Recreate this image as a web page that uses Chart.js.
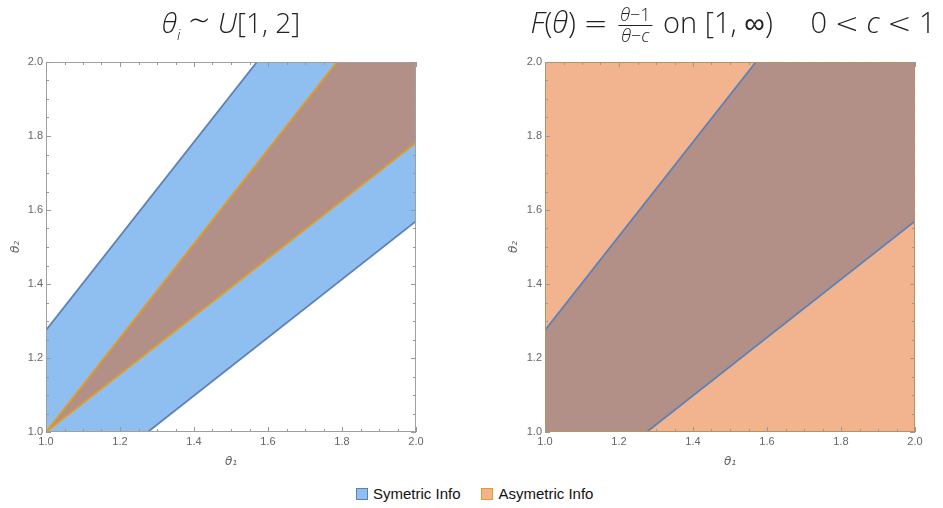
<!DOCTYPE html>
<html>
<head>
<meta charset="utf-8">
<script src="https://cdn.jsdelivr.net/npm/chart.js@4.4.0/dist/chart.umd.min.js"></script>
<style>
  body { margin: 0; background: #fff; width: 943px; height: 508px; position: relative; overflow: hidden; }
  canvas { position: absolute; top: 0; }
  #leftChart { left: 0; }
  #rightChart { left: 470px; }
  .ttl { position: absolute; top: 2px; font-family: 'Open Sans', sans-serif; font-weight: 300; font-size: 28px;
         color: #222; white-space: nowrap; transform: translateX(-50%); line-height: 40px; z-index: 2; }
  .tl { font-family: 'DejaVu Sans', sans-serif; font-weight: 200; }
  .frac { display: inline-block; vertical-align: -0.5em; text-align: center; font-size: 18px; line-height: 1.05; margin: 0 3px; }
  .frac .num { display: block; border-bottom: 1px solid #222; padding: 0 2px 1px; }
  .frac .den { display: block; }
  #legend { position: absolute; left: 356px; top: 485px; font-family: 'Liberation Sans', Arial, sans-serif; font-size: 15px; color: #111; white-space: nowrap; }
  .sw { display: inline-block; width: 10px; height: 10px; border: 1px solid; vertical-align: -1px; margin-right: 5px; }
</style>
</head>
<body>
<div class="ttl" style="left:231px"><i>θ<sub style="font-size:15px">i</sub></i> <span class="tl" style="font-size:36px;line-height:20px">∼</span> <i>U</i>[1, 2]</div>
<div class="ttl" style="left:733px;font-size:29px"><i>F</i>(<i>θ</i>) <span class="tl">=</span> <span class="frac"><span class="num"><i>θ</i>−1</span><span class="den"><i>θ</i>−<i>c</i></span></span> on [1, <span class="tl">∞</span>)&nbsp;&nbsp;&nbsp;&nbsp;&nbsp;0 <span class="tl">&lt;</span> <i>c</i> <span class="tl">&lt;</span> 1</div>
<canvas id="leftChart" width="470" height="480"></canvas>
<canvas id="rightChart" width="473" height="480"></canvas>
<div id="legend"><span class="sw" style="background:#8fbff0;border-color:#5e81b5"></span>Symetric Info&nbsp;&nbsp;&nbsp;&nbsp;&nbsp;<span class="sw" style="background:#f2b48f;border-color:#e19c24"></span>Asymetric Info</div>
<script>
// axis ticks
const tickValues = [1.0, 1.2, 1.4, 1.6, 1.8, 2.0];

// symmetric-info band (both panels)
const symBandX = [1, 1, 1.57, 2, 2, 1.275];
const symBandY = [1, 1.275, 2, 2, 1.57, 1];
const symUpperX = [1, 1.57];
const symUpperY = [1.275, 2];
const symLowerX = [1.275, 2];
const symLowerY = [1, 1.57];

// asymmetric-info region, uniform case (left)
const asymWedgeX = [1, 1.786, 2, 2];
const asymWedgeY = [1, 2, 2, 1.782];
const asymUpperX = [1, 1.786];
const asymUpperY = [1, 2];
const asymLowerX = [1, 2];
const asymLowerY = [1, 1.782];

// asymmetric-info region, F(θ) case (right) - whole square
const asymFullX = [1, 1, 2, 2];
const asymFullY = [1, 2, 2, 1];

const BLUE_FILL = '#8fbff0';
const BLUE_EDGE = '#5e81b5';
const ORANGE_FILL = 'rgba(225,84,0,0.44)';
const ORANGE_EDGE = '#e19c24';

function pts(xs, ys) {
  return xs.map((x, i) => ({x: x, y: ys[i]}));
}

function region(xs, ys, color, order) {
  return {
    data: pts(xs, ys), showLine: true, fill: 'shape', backgroundColor: color,
    borderColor: 'rgba(0,0,0,0)', borderWidth: 0, pointRadius: 0, order: order
  };
}

function edge(xs, ys, color, order) {
  return {
    data: pts(xs, ys), showLine: true, fill: false, borderColor: color,
    borderWidth: 1.8, pointRadius: 0, order: order
  };
}

// frame plus inward major/minor ticks on all four sides
const frameTicks = {
  id: 'frameTicks',
  afterDatasetsDraw(chart, args, opts) {
    const {ctx, chartArea: a, scales: {x, y}} = chart;
    ctx.save();
    ctx.strokeStyle = opts.frameColor;
    ctx.lineWidth = 1;
    ctx.strokeRect(a.left + 0.5, a.top + 0.5, a.right - a.left - 1, a.bottom - a.top - 1);
    ctx.strokeStyle = '#999';
    ctx.beginPath();
    for (let i = 0; i <= 20; i++) {
      const v = 1 + i * 0.05;
      const len = i % 4 === 0 ? 5 : 3;
      const px = Math.round(x.getPixelForValue(v)) + 0.5;
      const py = Math.round(y.getPixelForValue(v)) + 0.5;
      ctx.moveTo(px, a.bottom); ctx.lineTo(px, a.bottom - len);
      ctx.moveTo(px, a.top); ctx.lineTo(px, a.top + len);
      ctx.moveTo(a.left, py); ctx.lineTo(a.left + len, py);
      ctx.moveTo(a.right, py); ctx.lineTo(a.right - len, py);
    }
    ctx.stroke();
    ctx.restore();
  }
};

function axis(titleText, titlePad, fit) {
  return {
    type: 'linear', min: 1, max: 2,
    grid: {display: false, drawTicks: false},
    border: {display: false},
    afterBuildTicks: s => { s.ticks = tickValues.map(v => ({value: v})); },
    ticks: {
      padding: 3, color: '#666', maxRotation: 0, autoSkip: false,
      font: {family: 'Liberation Sans', size: 11},
      callback: v => Number(v).toFixed(1)
    },
    title: {display: true, text: titleText, color: '#666', font: {family: 'DejaVu Sans', size: 12, style: 'italic'}, padding: titlePad},
    afterFit: fit
  };
}

function makeChart(id, datasets, frameColor, padLeft, padRight, yWidth, yTitlePad) {
  return new Chart(document.getElementById(id), {
    type: 'scatter',
    data: {datasets: datasets},
    options: {
      responsive: false, animation: false, events: [],
      layout: {padding: {top: 62, right: padRight, left: padLeft, bottom: 0}},
      plugins: {legend: {display: false}, tooltip: {enabled: false}, frameTicks: {frameColor: frameColor}},
      scales: {
        x: axis('θ₁', {top: 0, bottom: 11}, s => { s.height = 48; }),
        y: axis('θ₂', {top: yTitlePad, bottom: 0}, s => { s.width = yWidth; })
      }
    },
    plugins: [frameTicks]
  });
}

makeChart('leftChart', [
  edge(asymUpperX, asymUpperY, ORANGE_EDGE, 0),
  edge(asymLowerX, asymLowerY, ORANGE_EDGE, 0),
  edge(symUpperX, symUpperY, BLUE_EDGE, 1),
  edge(symLowerX, symLowerY, BLUE_EDGE, 1),
  region(asymWedgeX, asymWedgeY, ORANGE_FILL, 3),
  region(symBandX, symBandY, BLUE_FILL, 4)
], '#a0a0a0', 0, 54, 46, 9);

makeChart('rightChart', [
  edge(symUpperX, symUpperY, BLUE_EDGE, 1),
  edge(symLowerX, symLowerY, BLUE_EDGE, 1),
  region(asymFullX, asymFullY, ORANGE_FILL, 3),
  region(symBandX, symBandY, BLUE_FILL, 4)
], '#b8925a', 30, 28, 45, 7);
</script>
</body>
</html>
